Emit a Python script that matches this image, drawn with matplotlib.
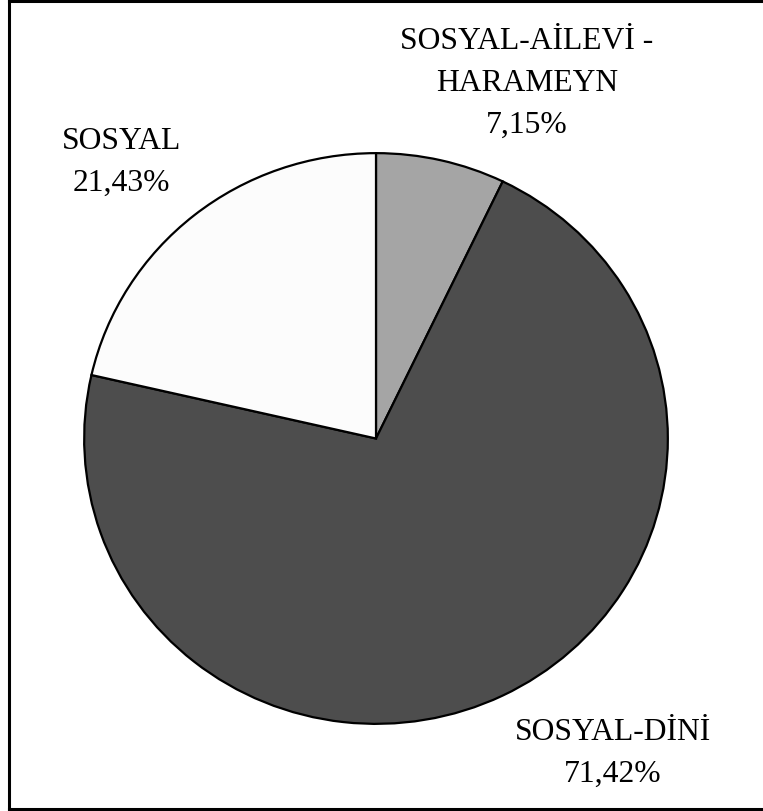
import matplotlib
matplotlib.use("Agg")
import matplotlib.pyplot as plt
from matplotlib.lines import Line2D

categories = ["SOSYAL-AİLEVİ -\nHARAMEYN", "SOSYAL-DİNİ", "SOSYAL"]
values = [7.15, 71.42, 21.43]
pct_labels = ["7,15%", "71,42%", "21,43%"]
colors = ["#a5a5a5", "#4d4d4d", "#fcfcfc"]

W, H = 763, 811
fig = plt.figure(figsize=(W / 100, H / 100), dpi=100)
plt.rcParams['font.family'] = ['Liberation Serif', 'DejaVu Serif']

# pie axes covering the pie bounding box (pixels)
left, right, top, bottom = 83, 669, 152, 725
ax = fig.add_axes([left / W, 1 - bottom / H, (right - left) / W, (bottom - top) / H])
ax.pie(values, colors=colors, startangle=90, counterclock=False,
       wedgeprops=dict(edgecolor="black", linewidth=1.6), radius=1)
ax.set_xlim(-1.004, 1.004)
ax.set_ylim(-1.004, 1.004)
ax.set_aspect('auto')
ax.axis('off')

# label layer in pixel coordinates
lax = fig.add_axes([0, 0, 1, 1])
lax.set_xlim(0, W)
lax.set_ylim(H, 0)
lax.axis('off')
fs = 22.8
label_pos = [(527, 49), (613, 740), (121, 149)]
line_gap = 42
for cat, pct, (x, y) in zip(categories, pct_labels, label_pos):
    lines = cat.split("\n") + [pct]
    for i, ln in enumerate(lines):
        lax.text(x, y + i * line_gap, ln, ha='center', va='baseline', fontsize=fs,
                 color='black')

# frame (right edge lies outside the image)
lax.add_line(Line2D([9, 9], [1, 809], color='black', linewidth=2.2))
lax.add_line(Line2D([9, W + 5], [1, 1], color='black', linewidth=2.2))
lax.add_line(Line2D([9, W + 5], [809, 809], color='black', linewidth=2.2))

fig.savefig("out.png", dpi=100)
